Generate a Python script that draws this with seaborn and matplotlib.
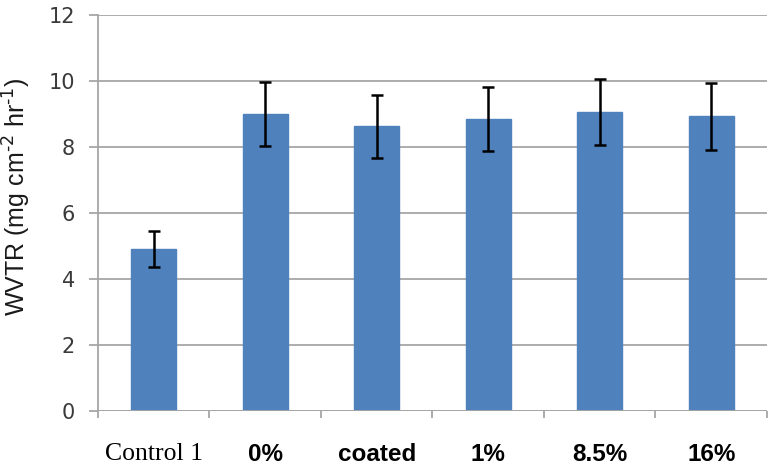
import matplotlib
matplotlib.use("Agg")
import matplotlib.pyplot as plt
import seaborn as sns
import pandas as pd
import numpy as np

categories = ["Control 1", "0%", "coated", "1%", "8.5%", "16%"]
wvtr = [4.9, 9.0, 8.62, 8.86, 9.06, 8.93]
errors = [0.55, 0.97, 0.95, 0.97, 1.0, 1.01]
y_ticks = [0, 2, 4, 6, 8, 10, 12]

df = pd.DataFrame({"cat": categories, "wvtr": wvtr})

sns.set_style("white")
fig = plt.figure(figsize=(7.74, 4.69), dpi=100)
ax = fig.add_axes([0.1266, 0.1243, 0.8643, 0.8437])

sns.barplot(data=df, x="cat", y="wvtr", color="#4F81BD", saturation=1,
            width=0.4, ax=ax, errorbar=None)
for p in ax.patches:
    p.set_edgecolor("#4F81BD")
ax.errorbar(x=np.arange(len(categories)), y=wvtr, yerr=errors, fmt="none",
            ecolor="black", elinewidth=1.8, capsize=4.5, capthick=1.8, zorder=5)

ax.set_ylim(0, 12)
ax.set_xlim(-0.5, len(categories) - 0.5)
ax.set_yticks(y_ticks)
ax.set_yticklabels([str(t) for t in y_ticks], fontsize=15, color="#3a3a3a",
                   family="DejaVu Sans")
ax.yaxis.grid(True, color="#A6A6A6", linewidth=1.3)
ax.set_axisbelow(True)

for s in ["top", "right", "bottom"]:
    ax.spines[s].set_visible(False)
ax.spines["left"].set_color("#A6A6A6")
ax.spines["left"].set_linewidth(1.3)
ax.axhline(0, color="#A6A6A6", linewidth=1.3, zorder=1)

ax.tick_params(axis="y", which="major", length=6.5, width=1.3, color="#A6A6A6",
               left=True, pad=10)
ax.set_xticks(np.arange(len(categories)))
ax.set_xticks(np.arange(len(categories) + 1) - 0.5, minor=True)
ax.tick_params(axis="x", which="major", length=0, pad=23)
ax.tick_params(axis="x", which="minor", length=5, width=1.3, color="#A6A6A6",
               bottom=True)
labels = ax.set_xticklabels(categories)
for i, lab in enumerate(labels):
    if i == 0:
        lab.set_fontfamily("Liberation Serif")
        lab.set_fontsize(18.5)
    else:
        lab.set_fontfamily("Liberation Sans")
        lab.set_fontweight("bold")
        lab.set_fontsize(17.5)
    lab.set_color("black")

ax.set_xlabel("")
ax.set_ylabel(r"WVTR (mg cm$^{\text{-2}}$ hr$^{\text{-1}}$)", fontsize=18,
              color="#1a1a1a", family="Liberation Sans")
ax.yaxis.set_label_coords(-0.097, 0.54)

fig.savefig("out.png", dpi=100)
